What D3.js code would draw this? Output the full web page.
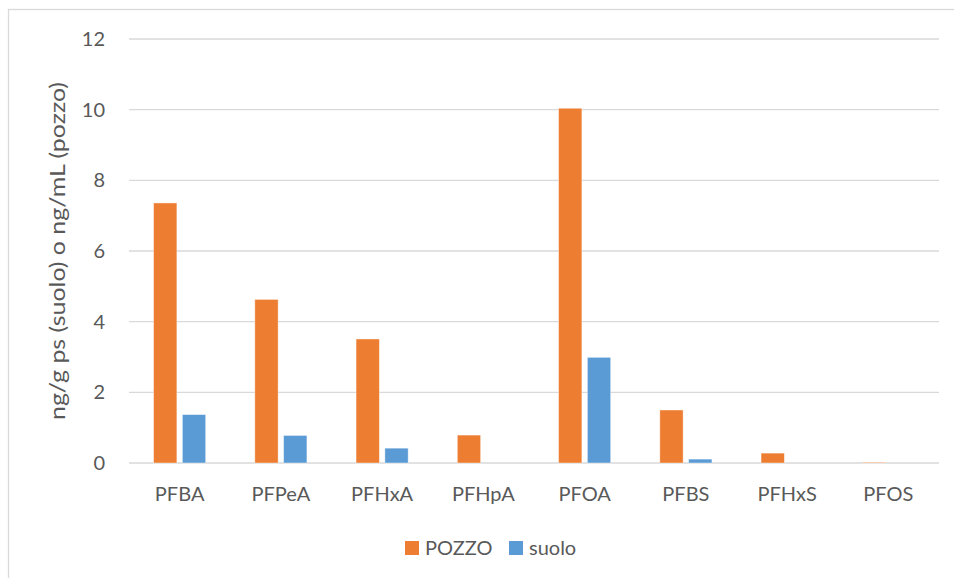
<!DOCTYPE html>
<html>
<head>
<meta charset="utf-8">
<script src="https://cdn.jsdelivr.net/npm/d3@7"></script>
<style>
  body { margin: 0; background: #fff; }
  text { font-family: Lato, "Open Sans", sans-serif; fill: #595959; }
</style>
</head>
<body>
<div class="chart"></div>
<script>
let categories = ["PFBA", "PFPeA", "PFHxA", "PFHpA", "PFOA", "PFBS", "PFHxS", "PFOS"];
let pozzo = [7.36, 4.63, 3.51, 0.79, 10.04, 1.5, 0.28, 0.02];
let suolo = [1.37, 0.78, 0.42, 0, 2.99, 0.11, 0, 0];
let seriesNames = ["POZZO", "suolo"];
let yTicks = [0, 2, 4, 6, 8, 10, 12];

let colors = ["#ED7D31", "#5B9BD5"];

let width = 954, height = 578;
let margin = {top: 39, right: 15, bottom: 115, left: 129};

let svg = d3.select(".chart").append("svg")
    .attr("width", width)
    .attr("height", height);

// chart border
svg.append("rect")
    .attr("x", 8.5).attr("y", 9.5)
    .attr("width", 960).attr("height", 600)
    .attr("fill", "none")
    .attr("stroke", "#D9D9D9")
    .attr("stroke-width", 1.3);

let x = d3.scaleBand()
    .domain(categories)
    .range([margin.left, width - margin.right]);

let y = d3.scaleLinear()
    .domain([0, 12])
    .range([height - margin.bottom, margin.top]);

// gridlines
svg.append("g")
  .selectAll("line")
  .data(yTicks)
  .enter().append("line")
    .attr("x1", margin.left)
    .attr("x2", width - margin.right)
    .attr("y1", d => y(d))
    .attr("y2", d => y(d))
    .attr("stroke", "#D9D9D9")
    .attr("stroke-width", 1.3);

// y tick labels
svg.append("g")
  .selectAll("text")
  .data(yTicks)
  .enter().append("text")
    .attr("x", 105)
    .attr("y", d => y(d))
    .attr("dy", "0.35em")
    .attr("text-anchor", "end")
    .attr("font-size", "20px")
    .text(d => d);

// bars
let barW = 23.3, innerGap = 5.5;
let rows = categories.map((c, i) => ({cat: c, vals: [pozzo[i], suolo[i]]}));

let groups = svg.append("g")
  .selectAll("g")
  .data(rows)
  .enter().append("g")
    .attr("transform", d => "translate(" + (x(d.cat) + x.bandwidth() / 2) + ",0)");

groups.selectAll("rect")
  .data(d => d.vals)
  .enter().append("rect")
    .attr("x", (d, j) => j == 0 ? -barW - innerGap / 2 : innerGap / 2)
    .attr("width", barW)
    .attr("y", d => y(d))
    .attr("height", d => y(0) - y(d))
    .attr("fill", (d, j) => colors[j])
    .attr("stroke", d => d > 0 ? "#fff" : "none")
    .attr("stroke-opacity", 0.5)
    .attr("stroke-width", 0.8);

// category labels
svg.append("g")
  .selectAll("text")
  .data(categories)
  .enter().append("text")
    .attr("x", d => x(d) + x.bandwidth() / 2)
    .attr("y", 501)
    .attr("text-anchor", "middle")
    .attr("font-size", "20px")
    .text(d => d);

// axis title
svg.append("text")
    .attr("transform", "translate(65," + ((y(0) + y(12)) / 2) + ") rotate(-90)")
    .attr("text-anchor", "middle")
    .attr("font-size", "22px")
    .attr("textLength", 338)
    .attr("lengthAdjust", "spacingAndGlyphs")
    .text("ng/g ps (suolo) o ng/mL (pozzo)");

// legend
let legendX = [405, 509];
let legend = svg.append("g")
  .selectAll("g")
  .data(seriesNames)
  .enter().append("g")
    .attr("transform", (d, i) => "translate(" + legendX[i] + ",541)");

legend.append("rect")
    .attr("width", 14).attr("height", 14)
    .attr("fill", (d, i) => colors[i]);

legend.append("text")
    .attr("x", 20)
    .attr("y", 7)
    .attr("dy", "0.35em")
    .attr("font-size", "20px")
    .text(d => d);
</script>
</body>
</html>
